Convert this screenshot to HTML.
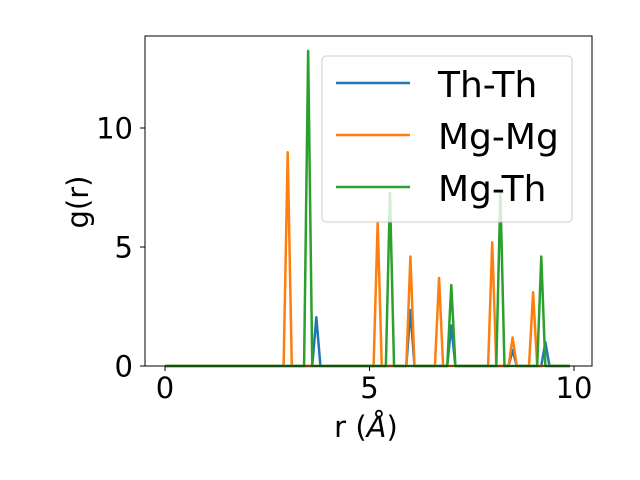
<!DOCTYPE html>
<html><head><meta charset="utf-8"><style>body{margin:0;background:#fff}svg{display:block;font-family:"DejaVu Sans","Liberation Sans",sans-serif}</style></head>
<body>
<svg id="chart" width="640" height="480" viewBox="0 0 640 480"></svg>
<script>
const rGrid = [0, 9.9, 0.1];
const thThR = [3.7, 6.0, 7.0, 8.5, 9.3];
const thThG = [2.05, 2.35, 1.7, 0.67, 1.0];
const mgMgR = [3.0, 5.2, 6.0, 6.7, 8.0, 8.5, 9.0];
const mgMgG = [8.98, 6.06, 4.6, 3.7, 5.2, 1.2, 3.1];
const mgThR = [3.5, 5.5, 7.0, 8.2, 9.2];
const mgThG = [13.24, 7.27, 3.4, 7.3, 4.6];
const xTicks = [0, 5, 10];
const yTicks = [0, 5, 10];
const seriesNames = ["Th-Th", "Mg-Mg", "Mg-Th"];
const colors = ["#1f77b4", "#ff7f0e", "#2ca02c"];

const L=145,R=592,T=36,B=366;
const X=v=>165+v*40.9;
const Y=v=>366-v*23.8;
const NS="http://www.w3.org/2000/svg";
const svg=document.getElementById('chart');
function mk(tag,attrs,parent){const e=document.createElementNS(NS,tag);for(const k in attrs)e.setAttribute(k,attrs[k]);(parent||svg).appendChild(e);return e;}

function series(rs,gs){
  const n=Math.round((rGrid[1]-rGrid[0])/rGrid[2]);
  const pts=[];
  for(let i=0;i<=n;i++){
    const r=rGrid[0]+i*rGrid[2];
    let g=0;
    rs.forEach((p,j)=>{if(Math.abs(p-r)<1e-6)g=gs[j];});
    pts.push(X(r).toFixed(2)+","+Y(g).toFixed(2));
  }
  return pts.join(" ");
}
const data=[[thThR,thThG],[mgMgR,mgMgG],[mgThR,mgThG]];
const lineNames=["th-th-line","mg-mg-line","mg-th-line"];
data.forEach((d,i)=>{
  const pl=mk('polyline',{points:series(d[0],d[1]),fill:'none',stroke:colors[i],'stroke-width':2.5,'stroke-linejoin':'round'});
  
  
});

const frame=mk('rect',{x:L,y:T,width:R-L,height:B-T,fill:'none',stroke:'#000','stroke-width':1});



xTicks.forEach(t=>{
  const ln=mk('line',{x1:X(t),x2:X(t),y1:B,y2:B+5,stroke:'#000'});
  
  
  const tx=mk('text',{x:X(t),y:398,'text-anchor':'middle','font-size':29});
  tx.textContent=t;
  
  
});
yTicks.forEach(t=>{
  const ln=mk('line',{x1:L-5,x2:L,y1:Y(t),y2:Y(t),stroke:'#000'});
  
  
  const tx=mk('text',{x:133,y:Y(t)+10.5,'text-anchor':'end','font-size':29});
  tx.textContent=t;
  
  
});
const xt=mk('text',{x:366,y:437,'text-anchor':'middle','font-size':29});
xt.innerHTML='r (<tspan font-style="italic">Å</tspan>)';


const yt=mk('text',{x:0,y:0,'text-anchor':'middle','font-size':29,transform:'translate(88,202) rotate(-90)'});
yt.textContent='g(r)';



const lg=mk('g',{});


mk('rect',{x:322,y:56,width:250,height:166,rx:4,fill:'#fff','fill-opacity':0.8,stroke:'#ccc'},lg);
seriesNames.forEach((s,i)=>{
  const y=83+i*52;
  const ln=mk('line',{x1:336,x2:410,y1:y,y2:y,stroke:colors[i],'stroke-width':2.5},lg);
  
  
  const tx=mk('text',{x:438,y:y+14,'font-size':36},lg);
  tx.textContent=s;
  
  
});
</script>
</body></html>
